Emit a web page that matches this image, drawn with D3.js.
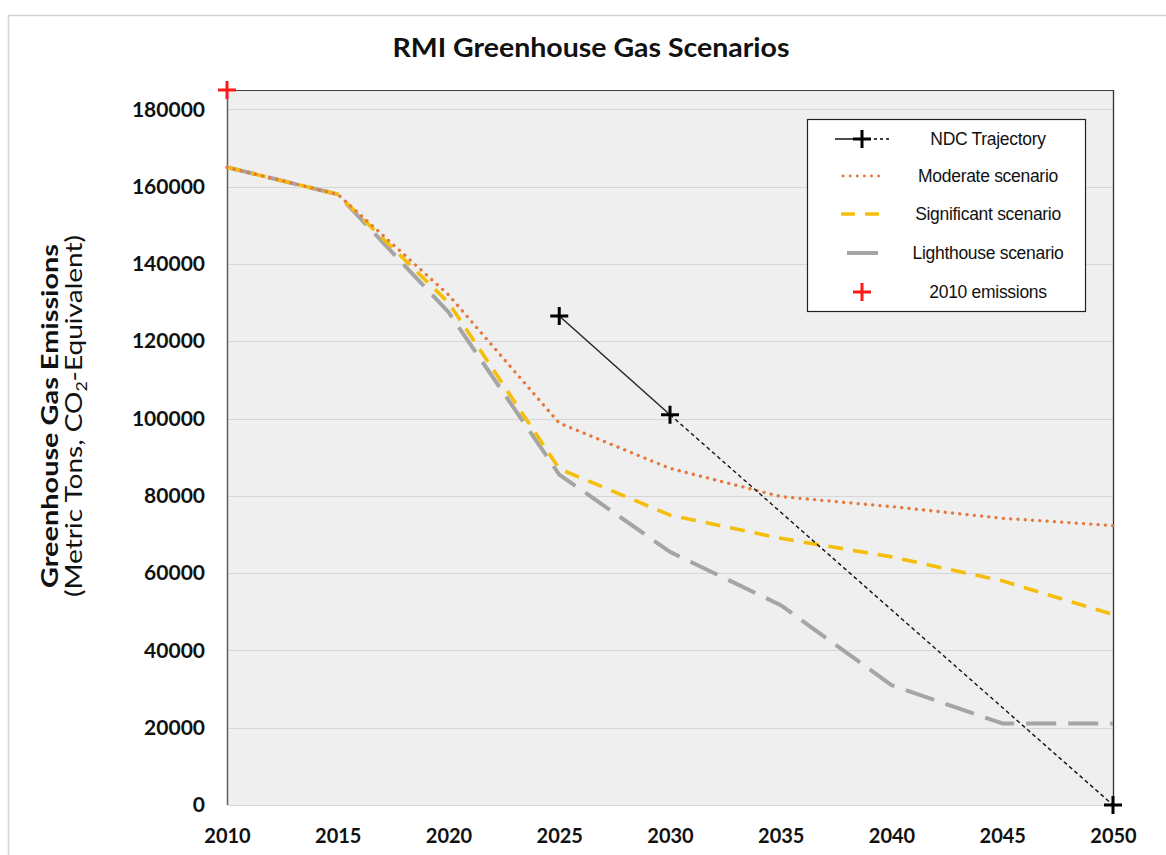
<!DOCTYPE html>
<html><head><meta charset="utf-8">
<script src="https://cdn.jsdelivr.net/npm/d3@7"></script>
<style>body{margin:0;background:#fff;}svg{display:block;}</style>
</head><body>
<svg id="c" width="1166" height="855"></svg>
<script>
const years = [2010, 2015, 2020, 2025, 2030, 2035, 2040, 2045, 2050];
const moderate    = [165000, 158000, 132000, 98800, 87100, 79800, 77200, 74200, 72300];
const significant = [165000, 158000, 130000, 87000, 75000, 69000, 64200, 58000, 49300];
const lighthouse  = [165000, 158000, 127500, 85500, 65500, 51700, 31000, 21100, 21100];
const ndcYears = [2025, 2030, 2050];
const ndcValues = [126500, 101000, 0];
const emissions2010 = {year: 2010, value: 185000};
const yTicks = [0, 20000, 40000, 60000, 80000, 100000, 120000, 140000, 160000, 180000];
const legendLabels = ["NDC Trajectory", "Moderate scenario", "Significant scenario", "Lighthouse scenario", "2010 emissions"];

const svg = d3.select("#c");
const L = 227, R = 1113, T = 90, B = 805;
const x = d3.scaleLinear().domain([2010, 2050]).range([L, R]);
const y = d3.scaleLinear().domain([0, 185000]).range([B, T]);

// outer border
svg.append("rect").attr("x", 8.5).attr("y", 15.5).attr("width", 1170).attr("height", 860)
  .attr("fill", "none").attr("stroke", "#d4d4d4").attr("stroke-width", 1.5);

// plot area
svg.append("rect").attr("x", L).attr("y", T).attr("width", R - L).attr("height", B - T).attr("fill", "#efefef");

// gridlines
svg.append("g").selectAll("line").data(yTicks).join("line")
  .attr("x1", L).attr("x2", R).attr("y1", d => Math.round(y(d)) + 0.5).attr("y2", d => Math.round(y(d)) + 0.5)
  .attr("stroke", "#d6d6d6").attr("stroke-width", 1.2);

// borders
svg.append("line").attr("x1", L + 0.5).attr("x2", L + 0.5).attr("y1", T).attr("y2", B).attr("stroke", "#606060").attr("stroke-width", 1.5);
svg.append("line").attr("x1", L).attr("x2", R).attr("y1", T + 0.5).attr("y2", T + 0.5).attr("stroke", "#404040").attr("stroke-width", 1.2);
svg.append("line").attr("x1", R + 0.5).attr("x2", R + 0.5).attr("y1", T).attr("y2", B).attr("stroke", "#303030").attr("stroke-width", 1.3);

// axes (labels only)
const yAxis = d3.axisLeft(y).tickValues(yTicks).tickSize(0).tickPadding(22).tickFormat(d3.format("d"));
const gy = svg.append("g").attr("transform", `translate(${L},0)`).call(yAxis);
gy.select(".domain").remove();
gy.selectAll("text").attr("font-family", "Lato, sans-serif").attr("font-weight", "bold").attr("font-size", 21).attr("fill", "#111");

const xAxis = d3.axisBottom(x).tickValues(years).tickSize(0).tickPadding(24).tickFormat(d3.format("d"));
const gx = svg.append("g").attr("transform", `translate(0,${B})`).call(xAxis);
gx.select(".domain").remove();
gx.selectAll("text").attr("font-family", "Lato, sans-serif").attr("font-weight", "bold").attr("font-size", 20).attr("fill", "#111");

const line = d3.line().x(d => x(d[0])).y(d => y(d[1]));
const zipY = vals => years.map((yr, i) => [yr, vals[i]]);

// scenario lines
svg.append("path").attr("d", line(zipY(lighthouse))).attr("fill", "none")
  .attr("stroke", "#a5a5a5").attr("stroke-width", 4).attr("stroke-dasharray", "30 12").attr("stroke-linejoin", "round");
svg.append("path").attr("d", line(zipY(significant))).attr("fill", "none")
  .attr("stroke", "#f5be0b").attr("stroke-width", 3.6).attr("stroke-dasharray", "15 10").attr("stroke-linejoin", "round");
svg.append("path").attr("d", line(zipY(moderate))).attr("fill", "none")
  .attr("stroke", "#e5793d").attr("stroke-width", 3.3).attr("stroke-dasharray", "0.1 7.2").attr("stroke-linecap", "round");

// NDC trajectory
const ndc = ndcYears.map((yr, i) => [yr, ndcValues[i]]);
svg.append("path").attr("d", line(ndc.slice(0, 2))).attr("fill", "none").attr("stroke", "#222").attr("stroke-width", 1.4);
svg.append("path").attr("d", line(ndc.slice(1))).attr("fill", "none").attr("stroke", "#111").attr("stroke-width", 1.4).attr("stroke-dasharray", "4 3");

function cross(g, cx, cy, s, color, w) {
  g.append("path").attr("d", `M${cx - s},${cy}H${cx + s}M${cx},${cy - s}V${cy + s}`)
    .attr("stroke", color).attr("stroke-width", w).attr("fill", "none");
}
ndc.forEach(d => cross(svg, x(d[0]), y(d[1]), 9, "#000", 3));
cross(svg, x(emissions2010.year), y(emissions2010.value), 9, "#ff1a1a", 3);

// title
svg.append("text").attr("x", 591).attr("y", 57).attr("text-anchor", "middle")
  .attr("font-family", "Lato, sans-serif").attr("font-weight", "bold").attr("font-size", 27.5).attr("fill", "#111")
  .attr("textLength", 397).attr("lengthAdjust", "spacingAndGlyphs")
  .text("RMI Greenhouse Gas Scenarios");

// y title
const yt = svg.append("g").attr("transform", "translate(58,416) rotate(-90)")
  .attr("font-family", "Lato, sans-serif").attr("fill", "#111");
yt.append("text").attr("x", -172).attr("y", 0).attr("font-weight", "bold").attr("font-size", 23)
  .attr("textLength", 344).attr("lengthAdjust", "spacingAndGlyphs").text("Greenhouse Gas Emissions");
const t2 = yt.append("text").attr("x", -181).attr("y", 24).attr("font-size", 24)
  .attr("textLength", 362).attr("lengthAdjust", "spacingAndGlyphs");
t2.append("tspan").text("(Metric Tons, CO");
t2.append("tspan").attr("font-size", 15).attr("dy", 5).text("2");
t2.append("tspan").attr("dy", -5).text("-Equivalent)");

// legend
const lg = svg.append("g");
lg.append("rect").attr("x", 807.5).attr("y", 119.5).attr("width", 278).attr("height", 192)
  .attr("fill", "#fff").attr("stroke", "#222").attr("stroke-width", 1.2);
const rowsY = [139, 176, 214, 253, 292];
const lx1 = 835, lx2 = 892, lxm = 862;
lg.append("line").attr("x1", lx1).attr("x2", lxm).attr("y1", rowsY[0]).attr("y2", rowsY[0]).attr("stroke", "#000").attr("stroke-width", 1.4);
lg.append("line").attr("x1", lxm).attr("x2", lx2).attr("y1", rowsY[0]).attr("y2", rowsY[0]).attr("stroke", "#000").attr("stroke-width", 1.3).attr("stroke-dasharray", "3 3");
cross(lg, lxm, rowsY[0], 9, "#000", 3);
lg.append("line").attr("x1", lx1 + 8).attr("x2", lx2 - 8).attr("y1", rowsY[1]).attr("y2", rowsY[1]).attr("stroke", "#e5793d").attr("stroke-width", 2.8).attr("stroke-dasharray", "0.1 7").attr("stroke-linecap", "round");
lg.append("line").attr("x1", lx1 + 6).attr("x2", lx2 - 8).attr("y1", rowsY[2]).attr("y2", rowsY[2]).attr("stroke", "#f5be0b").attr("stroke-width", 3.6).attr("stroke-dasharray", "14 10");
lg.append("line").attr("x1", lx1 + 12).attr("x2", lx2 - 14).attr("y1", rowsY[3]).attr("y2", rowsY[3]).attr("stroke", "#a5a5a5").attr("stroke-width", 4);
cross(lg, 862, rowsY[4], 9, "#ff1a1a", 3);
lg.selectAll("text.lt").data(legendLabels).join("text").attr("class", "lt")
  .attr("x", 988).attr("y", (d, i) => rowsY[i] + 6).attr("text-anchor", "middle")
  .attr("font-family", "Liberation Sans, Arial, sans-serif").attr("font-size", 17.5).attr("fill", "#111")
  .attr("letter-spacing", -0.3)
  .text(d => d);
</script>
</body></html>
